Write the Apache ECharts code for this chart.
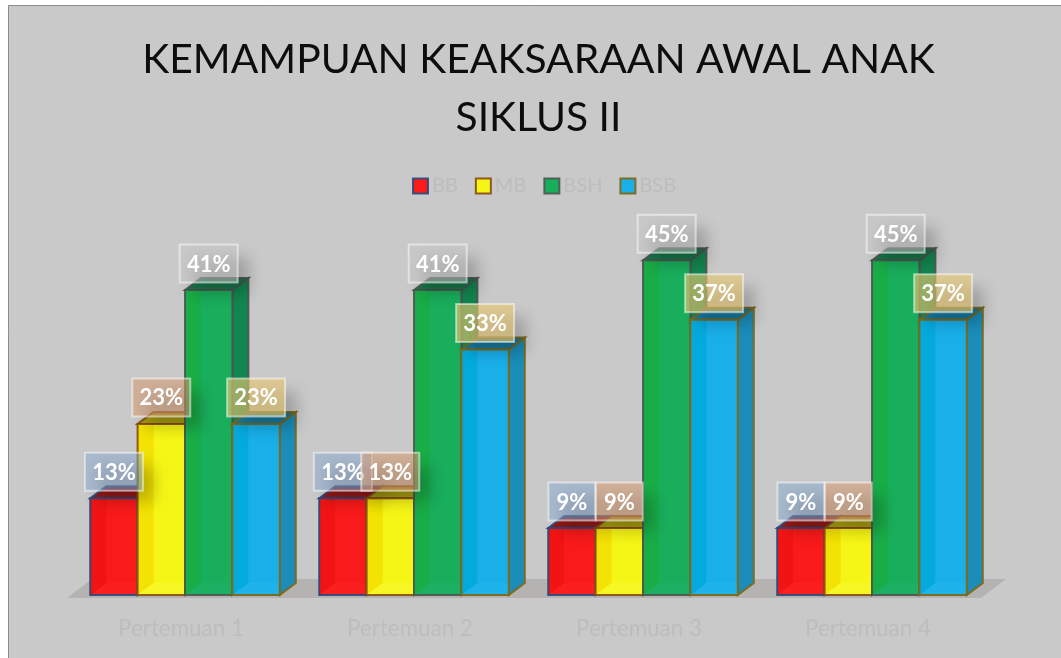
<!DOCTYPE html>
<html><head><meta charset="utf-8">
<style>html,body{margin:0;padding:0;background:#fff}#c{width:1061px;height:658px}</style>
<script src="https://cdn.jsdelivr.net/npm/echarts@6/dist/echarts.min.js"></script>
</head><body><div id="c"></div>
<script>
const categories = ['Pertemuan 1','Pertemuan 2','Pertemuan 3','Pertemuan 4'];
const seriesNames = ['BB','MB','BSH','BSB'];
const BB  = [13,13,9,9];
const MB  = [23,13,9,9];
const BSH = [41,41,45,45];
const BSB = [23,33,37,37];
const values = [BB,MB,BSH,BSB];
const front  = ['#f91a1a','#f6f616','#19ae5c','#19afe9'];
const strip  = ['#f21414','#f3e204','#19ad48','#05aadc'];
const floorC = ['#fa2020','#f7f725','#1db062','#1fb3eb'];
const side   = ['#a81414','#b5ac10','#128650','#1a8dbb'];
const topC   = ['#981818','#a89e10','#17784c','#167ca2'];
const edge   = ['rgba(40,75,125,0.9)','rgba(135,75,15,0.9)','rgba(75,85,80,0.9)','rgba(125,105,25,0.95)'];
const labelFill = ['rgba(135,170,210,0.5)','rgba(215,155,115,0.55)','rgba(200,200,200,0.5)','rgba(232,200,115,0.62)'];
const barW = 47.4, depthX = 16, depthY = 12, stripW = 16;

function poly(points, fill, stroke){
  return {type:'polygon', shape:{points}, style:{fill, stroke: stroke||null, lineWidth: stroke?2:0, lineJoin:'miter'}};
}
function barRender(si){
  return function(params, api){
    const ci = api.value(0), v = api.value(1);
    const c = api.coord([ci, v]), b = api.coord([ci, 0]);
    const x = c[0] - 2*barW + si*barW, y = c[1], base = b[1], w = barW;
    const e = edge[si];
    return {type:'group', children:[
      poly([[x+w,y],[x+w+depthX,y-depthY],[x+w+depthX,base-depthY],[x+w,base]], side[si], e),
      poly([[x,y],[x+depthX,y-depthY],[x+w+depthX,y-depthY],[x+w,y]], topC[si], e),
      poly([[x,y],[x+w,y],[x+w,base],[x,base]], front[si]),
      poly([[x,y],[x+stripW,y],[x+stripW,base-depthY],[x,base]], strip[si]),
      poly([[x,base],[x+stripW,base-depthY],[x+w,base-depthY],[x+w,base]], floorC[si]),
      poly([[x,y],[x+w,y],[x+w,base],[x,base]], 'rgba(0,0,0,0)', e)
    ]};
  };
}
function labelRender(params, api){
  const ci = api.value(0), v = api.value(1), si = api.value(2);
  const c = api.coord([ci, v]);
  const cx = c[0] - 2*barW + si*barW + barW/2, boxW = v < 10 ? 47 : 58, boxH = 38;
  const x = cx - boxW/2, y = c[1] - 7.5 - boxH;
  const far = 3000;
  return {type:'group', children:[
    {type:'rect', shape:{x:x+13-far,y:y+13,width:boxW-2,height:boxH-2},
      style:{fill:'#000', shadowBlur:15, shadowOffsetX:far, shadowColor:'rgba(0,0,0,0.22)'}},
    {type:'rect', shape:{x,y,width:boxW,height:boxH},
      style:{fill:labelFill[si], stroke:'rgba(255,255,255,0.5)', lineWidth:2}},
    {type:'text', x:cx, y:y+boxH/2+1, style:{text:v+'%', fill:'#fff', font:'bold 22px Lato', align:'center', verticalAlign:'middle'}}
  ]};
}
const barSeries = seriesNames.map((name,si)=>({
  name, type:'custom', coordinateSystem:'cartesian2d', z:2+si, silent:true, clip:false,
  itemStyle:{color:front[si], borderColor:edge[si], borderWidth:2},
  renderItem: barRender(si),
  encode:{x:0,y:1},
  data: values[si].map((v,i)=>[i,v])
}));
const labelData = [];
categories.forEach((_,ci)=>values.forEach((arr,si)=>labelData.push([ci,arr[ci],si])));
const labelSeries = {
  name:'labels', type:'custom', coordinateSystem:'cartesian2d', z:20, silent:true, clip:false,
  renderItem: labelRender, encode:{x:0,y:1}, data: labelData
};
const chart = echarts.init(document.getElementById('c'), null, {renderer:'canvas'});
chart.setOption({
  animation:false,
  backgroundColor:'#ffffff',
  graphic:[
    {type:'rect', z:-10, silent:true, shape:{x:8.5,y:5.5,width:1060,height:660}, style:{fill:'#c9c9c9', stroke:'#8c8c8c', lineWidth:1}},
    {type:'polygon', z:-9, silent:true, shape:{points:[[67,598],[92,579],[1006,579],[981,598]]}, style:{fill:'#b5b2b2'}}
  ],
  title:{
    text:'KEMAMPUAN KEAKSARAAN AWAL ANAK\nSIKLUS II',
    left:533.5, top:26, textAlign:'center',
    textStyle:{fontFamily:'Lato', fontSize:40.8, fontWeight:'normal', color:'#0d0d0d', lineHeight:58}
  },
  legend:{
    data:seriesNames.map(name=>({name, icon:'rect'})), left:412, top:176, itemWidth:15, itemHeight:15, itemGap:17, padding:0,
    selectedMode:false,
    textStyle:{fontFamily:'Lato', fontSize:20, color:'#bdbdbd', padding:[0,0,0,-1]}
  },
  grid:{left:70.5, width:916, top:223, height:372},
  xAxis:{type:'category', data:categories, axisLine:{show:false}, axisTick:{show:false},
    axisLabel:{fontFamily:'Lato', fontSize:22.4, color:'#bdbdbd', margin:23, padding:[0,8,0,0]}},
  yAxis:{type:'value', min:0, max:50, show:false, splitLine:{show:false}},
  series:[...barSeries, labelSeries]
});
</script></body></html>
